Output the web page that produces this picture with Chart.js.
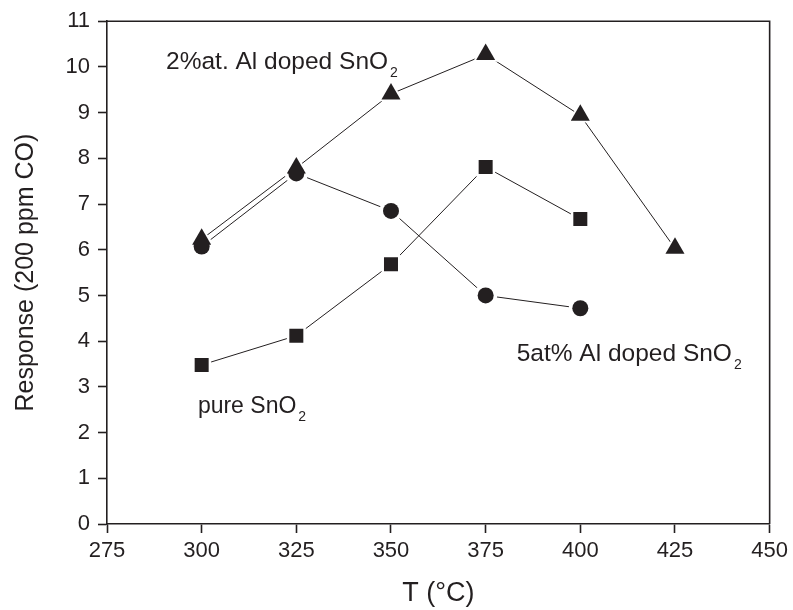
<!DOCTYPE html>
<html>
<head>
<meta charset="utf-8">
<script src="https://cdn.jsdelivr.net/npm/chart.js@4/dist/chart.umd.min.js"></script>
<style>
  html, body { margin: 0; padding: 0; background: #fff; }
  #wrap { width: 793px; height: 610px; }
</style>
</head>
<body>
<div id="wrap"><canvas id="chart"></canvas></div>
<script>
// temperatures (°C) and responses
var temps_pure = [300, 325, 350, 375, 400];
var resp_pure  = [3.48, 4.12, 5.68, 7.81, 6.67];

var temps_al5 = [300, 325, 350, 375, 400];
var resp_al5  = [6.07, 7.67, 6.85, 5.0, 4.72];

var temps_al2 = [300, 325, 350, 375, 400, 425];
var resp_al2  = [6.23, 7.79, 9.41, 10.27, 8.94, 6.03];

var xTicks = [275, 300, 325, 350, 375, 400, 425, 450];
var yTicks = [0, 1, 2, 3, 4, 5, 6, 7, 8, 9, 10, 11];

var ink = '#231f20';
var fontFam = '"Liberation Sans", Arial, Helvetica, sans-serif';

function pts(xs, ys) {
    var out = [];
    for (var i = 0; i < xs.length; i++) out.push({x: xs[i], y: ys[i]});
    return out;
}

var series = [
    {name: 'pure SnO2', data: pts(temps_pure, resp_pure), shape: 'rect', r: 9.9},
    {name: '5at% Al doped SnO2', data: pts(temps_al5, resp_al5), shape: 'circle', r: 8},
    {name: '2%at. Al doped SnO2', data: pts(temps_al2, resp_al2), shape: 'triangle', r: 11}
];

var datasets = [];
series.forEach(function (s) {
    // connecting line
    datasets.push({
        label: s.name, data: s.data, order: 3,
        borderColor: ink, borderWidth: 1, pointRadius: 0, fill: false
    });
    // white halo so the line stops short of the marker
    datasets.push({
        label: s.name + ' halo', data: s.data, order: 2, showLine: false,
        pointStyle: s.shape, pointRadius: s.r + 3.5,
        pointBackgroundColor: '#fff', pointBorderWidth: 0
    });
    // the marker itself
    datasets.push({
        label: s.name + ' marker', data: s.data, order: 1, showLine: false,
        pointStyle: s.shape, pointRadius: s.r,
        pointBackgroundColor: ink, pointBorderWidth: 0
    });
});

// frame on top and right + text labels with subscripts
var extras = {
    id: 'extras',
    afterDraw: function (chart) {
        var ctx = chart.ctx, a = chart.chartArea;
        ctx.save();
        ctx.strokeStyle = ink;
        ctx.lineWidth = 1.6;
        ctx.beginPath();
        ctx.moveTo(a.left, a.top);
        ctx.lineTo(a.right, a.top);
        ctx.lineTo(a.right, a.bottom);
        ctx.stroke();

        var xs = chart.scales.x, ys = chart.scales.y;
        var notes = chart.options.plugins.extras.notes;
        ctx.fillStyle = ink;
        ctx.textBaseline = 'alphabetic';
        ctx.textAlign = 'left';
        notes.forEach(function (n) {
            var px = xs.getPixelForValue(n.x), py = ys.getPixelForValue(n.y);
            ctx.font = n.size + 'px ' + fontFam;
            ctx.fillText(n.text, px, py);
            var w = ctx.measureText(n.text).width;
            ctx.font = '14px ' + fontFam;
            ctx.fillText(n.sub, px + w + 2, py + 8);
        });
        ctx.restore();
    }
};

var chart = new Chart(document.getElementById('chart'), {
    type: 'line',
    data: {datasets: datasets},
    plugins: [extras],
    options: {
        responsive: true,
        maintainAspectRatio: false,
        animation: false,
        layout: {padding: {left: 0, right: 21, top: 18, bottom: 0}},
        plugins: {
            legend: {display: false},
            tooltip: {enabled: false},
            extras: {
                notes: [
                    {text: '2%at. Al doped SnO', sub: '2', x: 290.6, y: 9.96, size: 24.5},
                    {text: 'pure SnO', sub: '2', x: 299.0, y: 2.43, size: 23},
                    {text: '5at% Al doped SnO', sub: '2', x: 383.2, y: 3.57, size: 24.5}
                ]
            }
        },
        scales: {
            x: {
                type: 'linear', min: 275, max: 450,
                afterBuildTicks: function (s) { s.ticks = xTicks.map(function (v) { return {value: v}; }); },
                afterFit: function (s) { s.height = 86; },
                grid: {drawOnChartArea: false, drawTicks: true, tickLength: 9, tickColor: ink, tickWidth: 1.6},
                border: {color: ink, width: 1.6},
                ticks: {color: ink, font: {family: fontFam, size: 22}, padding: 5, maxRotation: 0},
                title: {display: true, text: 'T (°C)', color: ink, font: {family: fontFam, size: 27}, padding: {top: 0, bottom: 0}}
            },
            y: {
                type: 'linear', min: 0, max: 11,
                afterBuildTicks: function (s) { s.ticks = yTicks.map(function (v) { return {value: v}; }); },
                afterFit: function (s) { s.width = 107; },
                grid: {drawOnChartArea: false, drawTicks: true, tickLength: 9, tickColor: ink, tickWidth: 1.6},
                border: {color: ink, width: 1.6},
                ticks: {color: ink, font: {family: fontFam, size: 22}, padding: 8},
                title: {display: true, text: 'Response (200 ppm CO)', color: ink, font: {family: fontFam, size: 25}, padding: {top: 11, bottom: 0}}
            }
        }
    }
});
</script>
</body>
</html>
